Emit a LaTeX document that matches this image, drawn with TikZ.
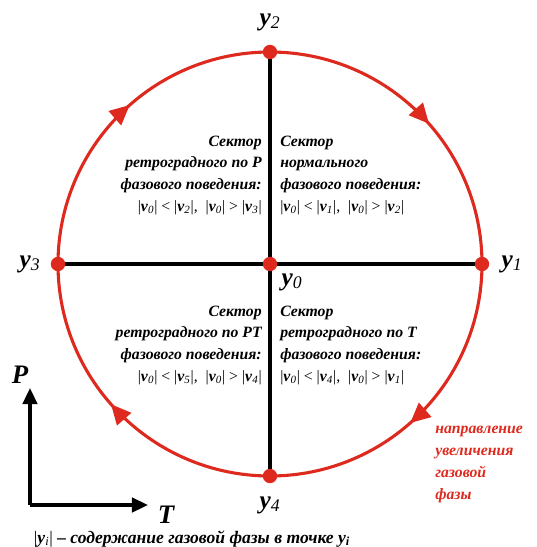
\documentclass[tikz,border=0pt]{standalone}
\usepackage{fontspec}
\setmainfont{Liberation Serif}
\usetikzlibrary{arrows.meta,decorations.markings}
\definecolor{phasered}{RGB}{222,42,30}
\newcommand{\absy}[1]{|\textbf{\textit{v}}\textsubscript{\textit{#1}}|}
\tikzset{
  pt/.style={circle, fill=phasered, inner sep=0pt, minimum size=3.6mm},
  ylabel/.style={font=\fontsize{18}{18}\selectfont\bfseries\itshape},
  sector/.style={font=\fontsize{11.2}{15.5}\selectfont\bfseries\itshape, inner sep=0pt},
  flowcirc/.style={phasered, line width=2.2pt, postaction=decorate,
    decoration={markings, mark=between positions 0.135 and 0.885 step 0.25
      with {\arrow{Triangle[length=5mm,width=4.6mm]}}}},
  axis/.style={line width=2.2pt, -{Triangle[length=4mm,width=3.6mm]}},
}
\begin{document}
\begin{tikzpicture}
  \useasboundingbox (-6.75,-7.075) rectangle (6.675,6.6);

  % points y0..y4
  \coordinate (y0) at (0,0);
  \coordinate (y1) at (0:5.3);
  \coordinate (y2) at (90:5.3);
  \coordinate (y3) at (180:5.3);
  \coordinate (y4) at (270:5.3);

  % cross
  \draw[line width=2.2pt] (y3) -- (y1);
  \draw[line width=2.2pt] (y2) -- (y4);

  % circle of phase change
  \draw[flowcirc] (y1) arc[start angle=0, end angle=-360, radius=5.3];

  \foreach \i in {0,...,4}
    \node[pt] (d\i) at (y\i) {};

  % point labels
  \node[ylabel] (l2) at (0,6.05) {y\textsubscript{\mdseries 2}};
  \node[ylabel] (l1) at (6.05,0) {y\textsubscript{\mdseries 1}};
  \node[ylabel] (l3) at (-6.0,0) {y\textsubscript{\mdseries 3}};
  \node[ylabel] (l0) at (0.55,-0.45) {y\textsubscript{\mdseries 0}};
  \node[ylabel] (l4) at (0,-6.03) {y\textsubscript{\mdseries 4}};

  % sectors
  \node[sector, anchor=east, align=right] (s32) at (-0.2,2.22)
    {Сектор\\ретроградного по P\\фазового поведения:\\
     {\mdseries\upshape\absy{0} < \absy{2}, \ \absy{0} > \absy{3}}};
  \node[sector, anchor=west, align=left] (s21) at (0.25,2.22)
    {Сектор\\нормального\\фазового поведения:\\
     {\mdseries\upshape\absy{0} < \absy{1}, \ \absy{0} > \absy{2}}};
  \node[sector, anchor=east, align=right] (s43) at (-0.2,-2.03)
    {Сектор\\ретроградного по PT\\фазового поведения:\\
     {\mdseries\upshape\absy{0} < \absy{5}, \ \absy{0} > \absy{4}}};
  \node[sector, anchor=west, align=left] (s14) at (0.25,-2.03)
    {Сектор\\ретроградного по T\\фазового поведения:\\
     {\mdseries\upshape\absy{0} < \absy{4}, \ \absy{0} > \absy{1}}};

  % direction note
  \node[sector, phasered, anchor=north west, align=left] (dir) at (4.125,-4.05)
    {направление\\увеличения\\газовой\\фазы};

  % P-T axes
  \coordinate (O) at (-6.0,-6.025);
  \coordinate (Ptip) at (-6.0,-3.1);
  \coordinate (Ttip) at (-3.05,-6.025);
  \draw[axis] (O) -- (Ptip);
  \draw[axis] (O) -- (Ttip);
  \node[font=\fontsize{19}{19}\selectfont\bfseries\itshape] (P) at (-6.25,-2.78) {P};
  \node[font=\fontsize{19}{19}\selectfont\bfseries\itshape] (T) at (-2.6,-6.28) {T};

  % caption
  \node[sector, font=\fontsize{12.5}{14}\selectfont\bfseries\itshape] (cap) at (-1.95,-6.87)
    {{\mdseries\upshape|\textbf{\textit{y}}\textsubscript{\textit{i}}|} – содержание газовой фазы в точке \textbf{y}\textsubscript{\textit{i}}};
\end{tikzpicture}
\end{document}
